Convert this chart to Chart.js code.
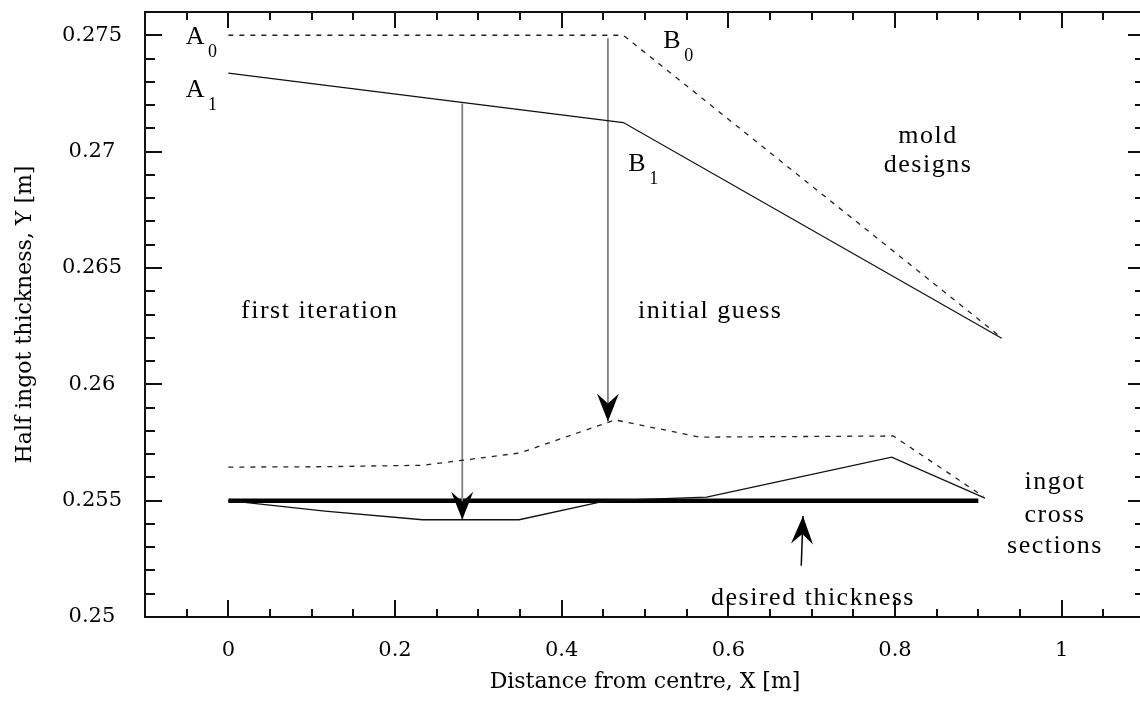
<!DOCTYPE html>
<html>
<head>
<meta charset="utf-8">
<title>Mold design iterations</title>
<script src="https://cdn.jsdelivr.net/npm/chart.js@4.4.1/dist/chart.umd.min.js"></script>
<style>
  html, body { margin: 0; padding: 0; overflow: hidden; background: #fff; }
  #wrap { width: 1145px; height: 704px; }
</style>
</head>
<body>
<div id="wrap"><canvas id="moldChart" width="1145" height="704"></canvas></div>
<script>
var xTicks = [0, 0.2, 0.4, 0.6, 0.8, 1];
var xTickLabels = ['0', '0.2', '0.4', '0.6', '0.8', '1'];
var yTicks = [0.25, 0.255, 0.26, 0.265, 0.27, 0.275];
var yTickLabels = ['0.25', '0.255', '0.26', '0.265', '0.27', '0.275'];

// mold profiles (A -> B -> end)
var moldGuessX = [0, 0.474, 0.928];
var moldGuessY = [0.275, 0.275, 0.262];
var moldIter1X = [0, 0.474, 0.928];
var moldIter1Y = [0.27337, 0.27125, 0.26198];

// resulting ingot cross sections
var ingotGuessX = [0, 0.117, 0.233, 0.35, 0.464, 0.566, 0.798, 0.906];
var ingotGuessY = [0.25644, 0.25646, 0.25652, 0.25705, 0.25847, 0.25773, 0.25778, 0.25518];
var ingotIter1X = [0, 0.116, 0.233, 0.349, 0.454, 0.574, 0.796, 0.908];
var ingotIter1Y = [0.255, 0.25455, 0.25418, 0.25418, 0.255, 0.25515, 0.25687, 0.25511];

var desiredX = [0, 0.9];
var desiredY = [0.255, 0.255];

// arrows as [x0, y0, x1, y1], head at the second point
var arrowIter1 = [0.2807, 0.27207, 0.2807, 0.25418];
var arrowGuess = [0.4555, 0.27487, 0.4555, 0.2584];
var arrowDesired = [0.6875, 0.2522, 0.6896, 0.25434];

var notes = [
  { text: 'A', sub: '0', x: -0.0512, y: 0.274625, align: 'left' },
  { text: 'A', sub: '1', x: -0.0512, y: 0.272334, align: 'left' },
  { text: 'B', sub: '0', x: 0.522, y: 0.27444, align: 'left' },
  { text: 'B', sub: '1', x: 0.480, y: 0.26918, align: 'left' },
  { text: 'mold', x: 0.8396, y: 0.270383, align: 'center' },
  { text: 'designs', x: 0.8396, y: 0.269137, align: 'center' },
  { text: 'first iteration', x: 0.0152, y: 0.26285, align: 'left' },
  { text: 'initial guess', x: 0.4916, y: 0.26285, align: 'left' },
  { text: 'ingot', x: 0.992, y: 0.255522, align: 'center' },
  { text: 'cross', x: 0.992, y: 0.254087, align: 'center' },
  { text: 'sections', x: 0.992, y: 0.252738, align: 'center' },
  { text: 'desired thickness', x: 0.7016, y: 0.250516, align: 'center' }
];

var noteFont = '26px "Liberation Serif", serif';
var subFont = '18px "Liberation Serif", serif';
var tickFont = { family: '"DejaVu Serif", serif', size: 21 };
var titleFont = { family: '"DejaVu Serif", serif', size: 22 };

function zipPoints(xs, ys){
  var pts = [];
  for(var i = 0; i < xs.length; i++) pts.push({ x: xs[i], y: ys[i] });
  return pts;
}

function arrowPoints(a){
  return [{ x: a[0], y: a[1] }, { x: a[2], y: a[3] }];
}

function lineSet(label, pts, colour, width, dash){
  return {
    label: label, data: pts, showLine: true,
    borderColor: colour, borderWidth: width, borderDash: dash || [],
    pointRadius: 0, pointHoverRadius: 0, fill: false, tension: 0
  };
}

function drawArrowHead(ctx, x0, y0, x1, y1){
  var ang = Math.atan2(y1 - y0, x1 - x0);
  ctx.save();
  ctx.translate(x1, y1);
  ctx.rotate(ang);
  ctx.beginPath();
  ctx.moveTo(0, 0);
  ctx.lineTo(-28, -11);
  ctx.lineTo(-18, 0);
  ctx.lineTo(-28, 11);
  ctx.closePath();
  ctx.fillStyle = '#000';
  ctx.fill();
  ctx.restore();
}

// scales add label padding to the plot edges; drop it so the frame sits where the layout says
function noEdgePadding(s){
  s.paddingTop = 0; s.paddingBottom = 0;
  s.paddingLeft = 0; s.paddingRight = 0;
}

// frame, inward ticks on all four sides, arrow heads and text notes
var framePlugin = {
  id: 'framePlugin',
  afterDatasetsDraw: function(chart){
    var ctx = chart.ctx;
    var area = chart.chartArea;
    var xs = chart.scales.x, ys = chart.scales.y;

    ctx.save();
    ctx.strokeStyle = '#111';
    ctx.lineWidth = 2;
    ctx.beginPath();
    ctx.moveTo(area.right, area.top);
    ctx.lineTo(area.left, area.top);
    ctx.lineTo(area.left, area.bottom);
    ctx.lineTo(area.right, area.bottom);
    ctx.lineTo(area.right, area.top);
    ctx.stroke();

    ctx.beginPath();
    for(var k = -2; k <= 22; k++){
      var px = Math.round(xs.getPixelForValue(k * 0.05));
      var major = (k % 4 === 0);
      ctx.moveTo(px, area.bottom); ctx.lineTo(px, area.bottom - (major ? 17 : 8));
      ctx.moveTo(px, area.top); ctx.lineTo(px, area.top + (major ? 16 : 8));
    }
    for(var j = 0; j <= 26; j++){
      var py = Math.round(ys.getPixelForValue(0.25 + j * 0.001));
      var ylen = (j % 5 === 0) ? 17 : 10;
      ctx.moveTo(area.left, py); ctx.lineTo(area.left + ylen, py);
      ctx.moveTo(area.right, py); ctx.lineTo(area.right - ylen, py);
    }
    ctx.stroke();

    var arrows = [arrowIter1, arrowGuess, arrowDesired];
    for(var a = 0; a < arrows.length; a++){
      var ar = arrows[a];
      drawArrowHead(ctx,
        xs.getPixelForValue(ar[0]), ys.getPixelForValue(ar[1]),
        xs.getPixelForValue(ar[2]), ys.getPixelForValue(ar[3]));
    }

    ctx.fillStyle = '#000';
    ctx.textBaseline = 'alphabetic';
    for(var n = 0; n < notes.length; n++){
      var nt = notes[n];
      var nx = xs.getPixelForValue(nt.x);
      var ny = ys.getPixelForValue(nt.y);
      ctx.font = noteFont;
      ctx.letterSpacing = '1.5px';
      ctx.textAlign = nt.align;
      ctx.fillText(nt.text, nx, ny);
      if(nt.sub){
        var w = ctx.measureText(nt.text).width;
        ctx.font = subFont;
        ctx.letterSpacing = '0px';
        ctx.textAlign = 'left';
        ctx.fillText(nt.sub, nx + w + 2, ny + 13);
      }
    }
    ctx.restore();
  }
};

document.addEventListener('DOMContentLoaded', function(){
  var datasets = [
    lineSet('mold, initial guess', zipPoints(moldGuessX, moldGuessY), '#222', 1.3, [5, 6]),
    lineSet('mold, first iteration', zipPoints(moldIter1X, moldIter1Y), '#111', 1.3),
    lineSet('ingot, initial guess', zipPoints(ingotGuessX, ingotGuessY), '#222', 1.3, [5, 6]),
    lineSet('ingot, first iteration', zipPoints(ingotIter1X, ingotIter1Y), '#111', 1.3),
    lineSet('arrow 1', arrowPoints(arrowIter1), '#808080', 1.8),
    lineSet('arrow 0', arrowPoints(arrowGuess), '#808080', 1.8),
    lineSet('arrow desired', arrowPoints(arrowDesired), '#000', 1.5),
    lineSet('desired thickness', zipPoints(desiredX, desiredY), '#000', 4.5)
  ];

  var ctx = document.getElementById('moldChart').getContext('2d');
  new Chart(ctx, {
    type: 'scatter',
    data: { datasets: datasets },
    plugins: [framePlugin],
    options: {
      responsive: false, animation: false, devicePixelRatio: 1,
      layout: { padding: { top: 12, right: 0, bottom: 0, left: 0 } },
      events: [],
      scales: {
        x: {
          type: 'linear', min: -0.1, max: 1.1,
          afterFit: function(s){ s.height = 87; noEdgePadding(s) },
          afterBuildTicks: function(s){ s.ticks = xTicks.map(function(v){ return { value: v } }) },
          grid: { display: false, drawTicks: false },
          border: { display: false },
          ticks: {
            autoSkip: false, maxRotation: 0, padding: 21, color: '#000', font: tickFont,
            callback: function(v, i){ return xTickLabels[i] }
          },
          title: { display: true, text: 'Distance from centre, X [m]', color: '#000', font: titleFont, padding: { top: 0, bottom: 9 } }
        },
        y: {
          type: 'linear', min: 0.25, max: 0.276,
          afterFit: function(s){ s.width = 145; noEdgePadding(s) },
          afterBuildTicks: function(s){ s.ticks = yTicks.map(function(v){ return { value: v } }) },
          grid: { display: false, drawTicks: false },
          border: { display: false },
          ticks: {
            autoSkip: false, crossAlign: 'center', padding: 23, color: '#000', font: tickFont,
            callback: function(v, i){ return yTickLabels[i] }
          },
          title: { display: true, text: 'Half ingot thickness, Y [m]', color: '#000', font: titleFont, padding: { top: 12, bottom: 0 } }
        }
      },
      plugins: { legend: { display: false }, tooltip: { enabled: false } }
    }
  });
});
</script>
</body>
</html>
